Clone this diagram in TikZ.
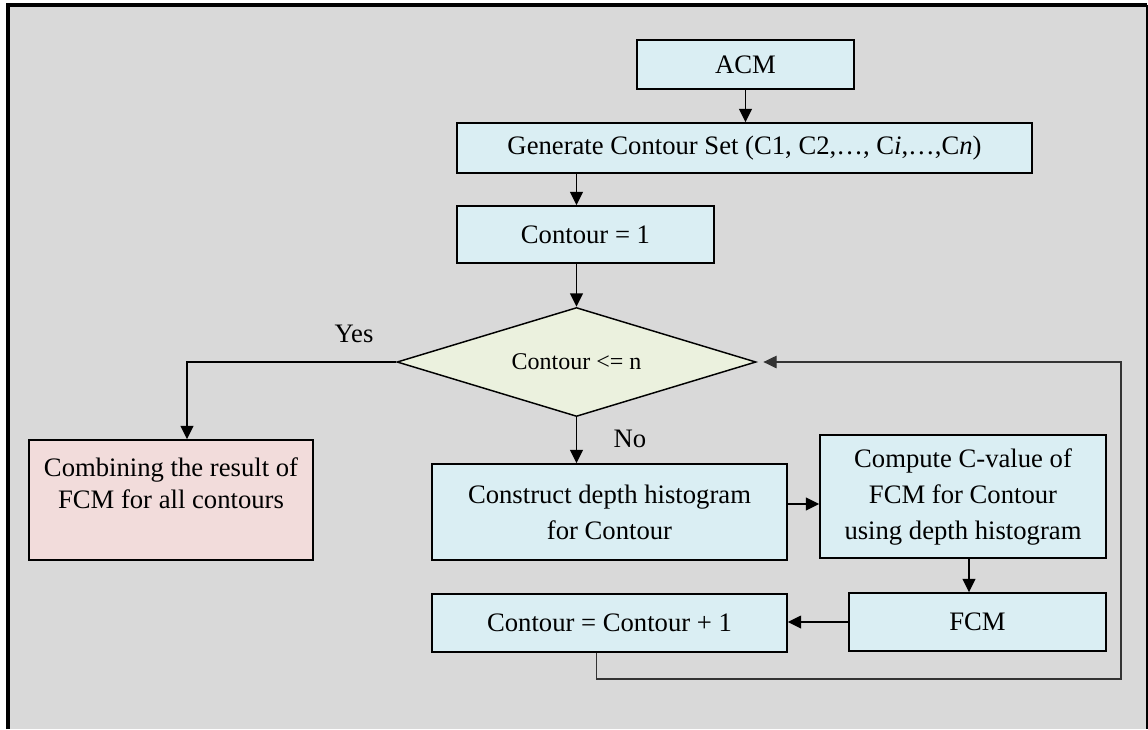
\documentclass[tikz,border=0pt]{standalone}
\usepackage{fontspec}
\setmainfont{Liberation Serif}
\usepackage{tikz}
\definecolor{panelgray}{HTML}{D9D9D9}
\definecolor{stepblue}{HTML}{DAEEF3}
\definecolor{testgreen}{HTML}{EBF1DE}
\definecolor{endpink}{HTML}{F2DCDB}
\definecolor{loopgray}{HTML}{333333}
\usetikzlibrary{shapes.geometric, arrows.meta, positioning}

\begin{document}
\begin{tikzpicture}[
    x=0.75pt, y=-0.75pt,
    font=\fontsize{20}{27}\selectfont,
    box/.style={draw=black, line width=1.1pt, fill=stepblue, align=center, inner sep=2pt},
    test/.style={diamond, aspect=3.3, draw=black, line width=1.1pt, fill=testgreen, inner sep=0pt},
    flow/.style={-{Triangle[length=10pt, width=9.5pt]}, line width=1.2pt},
    back/.style={-{Triangle[length=10pt, width=9.5pt]}, line width=0.8pt, draw=loopgray}
]
    \useasboundingbox (0,0) rectangle (1148,729);
    \fill[panelgray] (7.5,5) rectangle (1146.5,729);
    \draw[line width=3pt] (7.5,729) -- (7.5,5) -- (1146.5,5);
    \draw[line width=1.5pt] (1146.5,5) -- (1146.5,729);

    \node[box, minimum width=162.75pt, minimum height=36.75pt] (acm) at (745.5,64.5) {ACM};
    \node[box, minimum width=431.25pt, minimum height=37.5pt] (gen) at (744.5,148)
        {Generate Contour Set (C1, C2,…, C\textit{i},…,C\textit{n})};
    \node[box, minimum width=192.75pt, minimum height=42.75pt] (init) at (585.5,234.5) {Contour = 1};
    \node[test, minimum width=269.25pt, minimum height=81.75pt] (check) at (576.5,362) {\fontsize{18}{22}\selectfont Contour <= n};
    \node[box, fill=endpink, minimum width=213pt, minimum height=90pt,
          font=\fontsize{20}{24}\selectfont, text depth=25pt] (combine) at (171,500)
        {Combining the result of\\FCM for all contours};
    \node[box, minimum width=266.25pt, minimum height=72pt] (hist) at (609.5,512)
        {Construct depth histogram\\for Contour};
    \node[box, minimum width=214.5pt, minimum height=92.25pt] (cval) at (963,496.5)
        {Compute C-value of\\FCM for Contour\\using depth histogram};
    \node[box, minimum width=192.75pt, minimum height=43.5pt] (fcm) at (977.5,622) {FCM};
    \node[box, minimum width=266.25pt, minimum height=43.5pt] (next) at (609.5,623)
        {Contour = Contour + 1};

    \node (yes) at (354,334) {Yes};
    \node (no) at (630,439) {No};

    \coordinate (histout) at ([yshift=6pt]hist.east);
    \coordinate (cvalout) at ([xshift=4.5pt]cval.south);
    \coordinate (corner) at (1121,679);

    \draw[flow] (acm) -- (acm |- gen.north);
    \draw[flow] (gen.south -| check) -- (init.north -| check);
    \draw[flow] (init.south -| check) -- (check.north);
    \draw[flow] (check.west) -| ([xshift=12pt]combine.north);
    \draw[flow] (check.south) -- (check.south |- hist.north);
    \draw[flow] (histout) -- (histout -| cval.west);
    \draw[flow] (cvalout) -- (cvalout |- fcm.north);
    \draw[flow] (fcm.west) -- (fcm.west -| next.east);
    \draw[back, shorten >=5pt] ([xshift=-10pt]next.south) |- (corner) |- (check.east);
\end{tikzpicture}
\end{document}
